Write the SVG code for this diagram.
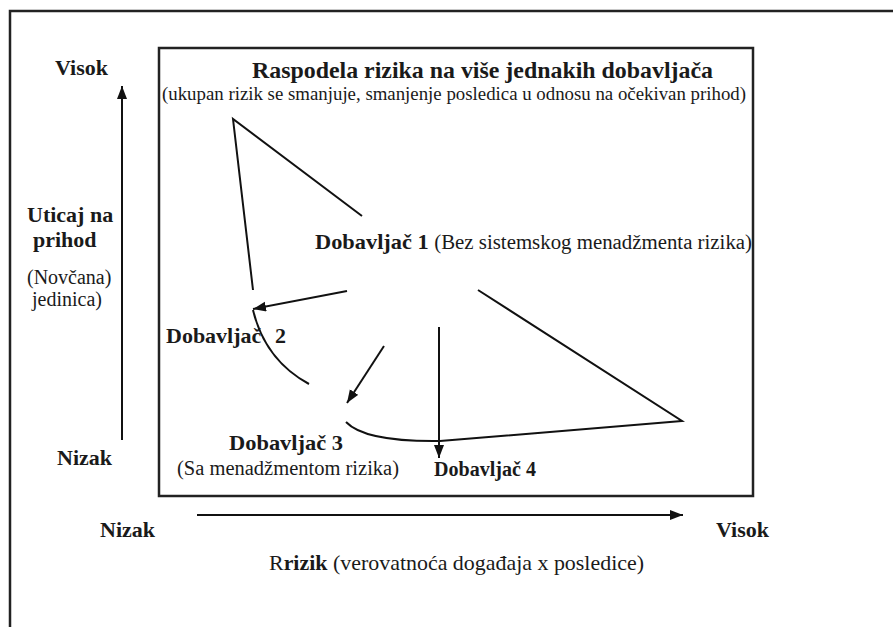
<svg xmlns="http://www.w3.org/2000/svg" width="893" height="627" viewBox="0 0 893 627">
<defs>
<style>
.frame{fill:none;stroke:#222;stroke-width:2.5}
.ln{fill:none;stroke:#111;stroke-width:2}
.b{font-family:"Liberation Serif","Times New Roman",serif;font-weight:bold;fill:#1a1a1a}
.r{font-family:"Liberation Serif","Times New Roman",serif;font-weight:normal;fill:#1a1a1a}
</style>
<marker id="ah" markerUnits="userSpaceOnUse" markerWidth="14" markerHeight="11" refX="13" refY="5" orient="auto">
<path d="M0,0 L13,5 L0,10 z" fill="#111"/>
</marker>
</defs>
<rect width="893" height="627" fill="#fff"/>
<path class="frame" d="M10,640 V11 H900"/>
<rect id="chart-box" class="frame" x="159" y="48" width="594" height="448"/>

<g id="connectors">
<line class="ln" x1="122" y1="440" x2="122" y2="86" marker-end="url(#ah)"/>
<line class="ln" x1="197" y1="515" x2="683" y2="515" marker-end="url(#ah)"/>
<path class="ln" d="M362,216 L233,119 L253,290"/>
<line class="ln" x1="347" y1="291" x2="253" y2="309" marker-end="url(#ah)"/>
<path class="ln" d="M253,310 Q265,360 309,384"/>
<line class="ln" x1="384" y1="346" x2="347" y2="403" marker-end="url(#ah)"/>
<path class="ln" d="M346,422 Q365,442 440,441 L682,421 L478,290"/>
<line class="ln" x1="439" y1="327" x2="439" y2="458" marker-end="url(#ah)"/>
</g>

<g id="title">
<text class="b" x="252" y="78" font-size="24" textLength="461" lengthAdjust="spacingAndGlyphs">Raspodela rizika na više jednakih dobavljača</text>
<text class="r" x="162" y="100" font-size="19.5" textLength="584" lengthAdjust="spacingAndGlyphs">(ukupan rizik se smanjuje, smanjenje posledica u odnosu na očekivan prihod)</text>
</g>

<g id="y-axis-labels">
<text class="b" x="55" y="75" font-size="22">Visok</text>
<text class="b" x="27" y="222" font-size="22">Uticaj na</text>
<text class="b" x="33" y="247" font-size="22">prihod</text>
<text class="r" x="27" y="284" font-size="20">(Novčana)</text>
<text class="r" x="32" y="306" font-size="20">jedinica)</text>
<text class="b" x="57" y="465" font-size="22">Nizak</text>
</g>

<g id="x-axis-labels">
<text class="b" x="100" y="537" font-size="22">Nizak</text>
<text class="b" x="716" y="537" font-size="22">Visok</text>
<text class="r" x="269" y="570" font-size="22" textLength="375" lengthAdjust="spacingAndGlyphs">R<tspan class="b">rizik</tspan> (verovatnoća događaja x posledice)</text>
</g>

<g id="supplier-1">
<text class="b" x="315" y="249" font-size="22" textLength="437" lengthAdjust="spacingAndGlyphs">Dobavljač 1 <tspan class="r" font-size="20.5">(Bez sistemskog menadžmenta rizika)</tspan></text>
</g>

<g id="supplier-2">
<text class="b" x="166" y="343" font-size="22">Dobavljač <tspan x="275">2</tspan></text>
</g>

<g id="supplier-3">
<text class="b" x="229" y="450" font-size="22" textLength="114" lengthAdjust="spacingAndGlyphs">Dobavljač 3</text>
<text class="r" x="177" y="475" font-size="20.5" textLength="222" lengthAdjust="spacingAndGlyphs">(Sa menadžmentom rizika)</text>
</g>

<g id="supplier-4">
<text class="b" x="434" y="476" font-size="20" textLength="102" lengthAdjust="spacingAndGlyphs">Dobavljač 4</text>
</g>
</svg>
